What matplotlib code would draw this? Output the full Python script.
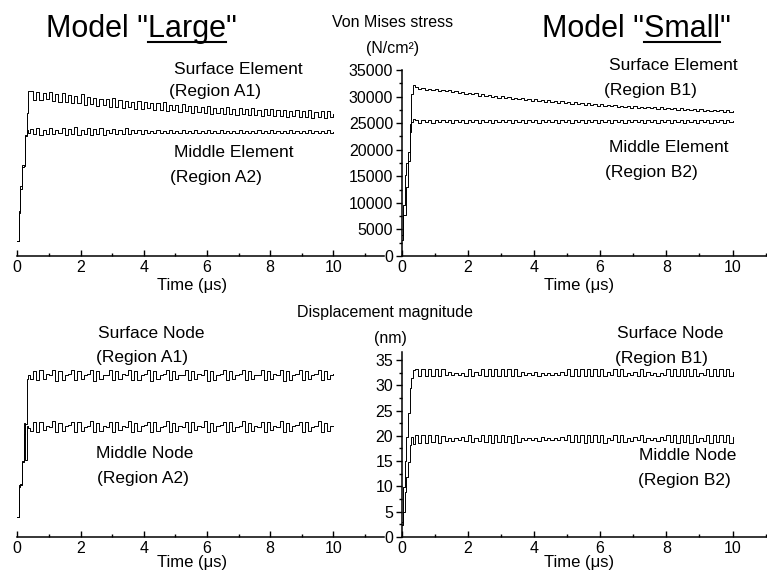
import numpy as np
import matplotlib
matplotlib.use('Agg')
import matplotlib.pyplot as plt
from matplotlib.ticker import MultipleLocator

plt.rcParams['font.family'] = ['Liberation Sans', 'DejaVu Sans']

W, H = 767, 582

# sample times (us): fine steps during the loading ramp, then 0.1 us
t_ramp = [0, 0.05, 0.1, 0.15, 0.2, 0.25, 0.3, 0.35]
t_main = np.round(np.arange(0.4, 10.05, 0.1), 2)
time = np.concatenate([t_ramp, t_main])

# Von Mises stress, thousands of N/cm^2
stress_a1 = [2.8, 8.4, 13.1, 17.2, 17.2, 22.8, 26.9, 31.0,
             31.0, 29.4, 30.9, 29.3, 30.7, 29.5, 30.8, 29.2, 30.5, 29.0,
             30.6, 28.9, 30.3, 28.8, 30.1, 28.7, 30.4, 28.5, 29.9, 28.6,
             29.8, 28.3, 29.6, 28.4, 29.5, 28.1, 29.7, 28.0, 29.3, 27.9,
             29.2, 28.0, 29.0, 27.7, 29.1, 27.6, 28.9, 27.8, 28.8, 27.5,
             28.7, 27.4, 28.9, 27.3, 28.5, 27.4, 28.4, 27.1, 28.6, 27.2,
             28.2, 27.0, 28.3, 27.1, 28.0, 26.9, 28.2, 26.8, 27.9, 26.9,
             27.8, 26.7, 28.0, 26.8, 27.7, 26.6, 27.9, 26.7, 27.6, 26.5,
             27.8, 26.6, 27.5, 26.4, 27.7, 26.5, 27.6, 26.3, 27.4, 26.4,
             27.5, 26.2, 27.3, 26.3, 27.5, 26.1, 27.2, 26.2, 27.4, 26.0,
             27.1, 26.2, 27.3, 26.0, 27.2, 26.1, 26.8]
stress_a2 = [2.8, 8.0, 12.6, 16.8, 17.0, 22.5, 23.8, 23.2,
             23.9, 22.9, 24.0, 22.8, 23.8, 23.0, 24.1, 22.9, 23.7, 23.1,
             24.0, 22.8, 23.9, 23.0, 24.2, 22.7, 23.8, 22.9, 24.1, 22.8,
             23.9, 23.0, 24.0, 22.8, 23.7, 23.1, 23.9, 22.9, 23.8, 23.0,
             24.0, 22.9, 23.7, 23.1, 23.8, 23.0, 23.7, 23.1, 23.6, 23.2,
             23.8, 23.1, 23.6, 23.2, 23.7, 23.1, 23.6, 23.2, 23.8, 23.1,
             23.6, 23.2, 23.7, 23.1, 23.5, 23.2, 23.7, 23.1, 23.6, 23.2,
             23.8, 23.1, 23.6, 23.2, 23.5, 23.1, 23.7, 23.2, 23.6, 23.1,
             23.5, 23.2, 23.7, 23.1, 23.6, 23.2, 23.8, 23.1, 23.5, 23.2,
             23.6, 23.1, 23.7, 23.2, 23.6, 23.1, 23.5, 23.2, 23.7, 23.1,
             23.6, 23.2, 23.5, 23.1, 23.7, 23.2, 23.4]
stress_b1 = [3.9, 9.6, 15.2, 17.5, 19.6, 24.9, 30.5, 32.1,
             31.8, 31.5, 31.7, 31.3, 31.5, 31.2, 31.4, 31.1, 31.3, 31.0,
             31.2, 30.8, 31.0, 30.7, 30.9, 30.5, 30.7, 30.4, 30.6, 30.2,
             30.4, 30.1, 30.3, 29.9, 30.2, 29.8, 30.1, 29.7, 29.9, 29.6,
             29.8, 29.5, 29.7, 29.3, 29.6, 29.2, 29.5, 29.1, 29.4, 29.0,
             29.3, 28.9, 29.2, 28.8, 29.1, 28.7, 29.0, 28.6, 28.9, 28.6,
             28.8, 28.5, 28.7, 28.4, 28.6, 28.3, 28.6, 28.2, 28.5, 28.2,
             28.4, 28.1, 28.3, 28.0, 28.3, 27.9, 28.2, 27.9, 28.1, 27.8,
             28.1, 27.8, 28.0, 27.7, 28.0, 27.6, 27.9, 27.6, 27.8, 27.5,
             27.8, 27.5, 27.7, 27.4, 27.7, 27.3, 27.6, 27.3, 27.5, 27.2,
             27.5, 27.2, 27.4, 27.1, 27.4, 27.1, 27.3]
stress_b2 = [3.0, 7.8, 7.8, 12.9, 17.8, 23.4, 25.3, 25.8,
             25.6, 25.1, 25.5, 25.2, 25.6, 25.1, 25.5, 25.2, 25.6, 25.2,
             25.5, 25.1, 25.6, 25.2, 25.5, 25.1, 25.6, 25.2, 25.5, 25.1,
             25.6, 25.2, 25.5, 25.1, 25.6, 25.2, 25.5, 25.2, 25.6, 25.1,
             25.5, 25.2, 25.6, 25.1, 25.5, 25.2, 25.6, 25.1, 25.5, 25.2,
             25.6, 25.2, 25.5, 25.1, 25.6, 25.2, 25.5, 25.1, 25.6, 25.2,
             25.5, 25.1, 25.6, 25.2, 25.5, 25.1, 25.6, 25.2, 25.5, 25.1,
             25.6, 25.2, 25.5, 25.1, 25.6, 25.2, 25.5, 25.2, 25.6, 25.1,
             25.5, 25.2, 25.6, 25.1, 25.5, 25.2, 25.6, 25.1, 25.5, 25.2,
             25.6, 25.1, 25.5, 25.2, 25.6, 25.1, 25.5, 25.2, 25.6, 25.1,
             25.5, 25.2, 25.6, 25.1, 25.5, 25.2, 25.4]

# displacement magnitude, nm
disp_a1 = [3.9, 10.2, 10.2, 15.1, 20.3, 22.4, 31.2, 32.0,
           31.2, 32.9, 31.0, 33.0, 31.3, 32.2, 32.0, 33.1, 30.9, 32.8,
           31.1, 32.1, 32.3, 33.0, 31.0, 32.9, 31.2, 32.0, 32.2, 33.1,
           30.9, 32.8, 31.2, 32.1, 32.0, 33.0, 31.0, 32.9, 31.3, 32.2,
           32.0, 33.1, 31.0, 32.8, 31.1, 32.1, 32.3, 33.0, 30.9, 32.9,
           31.2, 32.0, 32.2, 33.1, 31.0, 32.8, 31.2, 32.1, 32.0, 33.0,
           31.0, 32.9, 31.3, 32.2, 32.0, 33.1, 30.9, 32.8, 31.1, 32.1,
           32.3, 33.0, 31.0, 32.9, 31.2, 32.0, 32.2, 33.1, 31.0, 32.8,
           31.2, 32.1, 32.0, 33.0, 31.0, 32.9, 31.3, 32.2, 32.0, 33.1,
           30.9, 32.8, 31.1, 32.1, 32.3, 33.0, 31.0, 32.9, 31.2, 32.0,
           32.2, 33.1, 31.0, 32.8, 31.2, 32.1, 32.2]
disp_a2 = [3.9, 9.8, 10.5, 14.8, 22.5, 15.2, 22.0, 21.5,
           21.0, 22.7, 20.8, 22.8, 21.1, 22.0, 21.8, 22.9, 20.7, 22.6,
           20.9, 21.9, 22.1, 22.8, 20.8, 22.7, 21.0, 21.8, 22.0, 22.9,
           20.7, 22.6, 21.0, 21.9, 21.8, 22.8, 20.8, 22.7, 21.1, 22.0,
           21.8, 22.9, 20.8, 22.6, 20.9, 21.9, 22.1, 22.8, 20.7, 22.7,
           21.0, 21.8, 22.0, 22.9, 20.8, 22.6, 21.0, 21.9, 21.8, 22.8,
           20.8, 22.7, 21.1, 22.0, 21.8, 22.9, 20.7, 22.6, 20.9, 21.9,
           22.1, 22.8, 20.8, 22.7, 21.0, 21.8, 22.0, 22.9, 20.8, 22.6,
           21.0, 21.9, 21.8, 22.8, 20.8, 22.7, 21.1, 22.0, 21.8, 22.9,
           20.7, 22.6, 20.9, 21.9, 22.1, 22.8, 20.8, 22.7, 21.0, 21.8,
           22.0, 22.9, 20.8, 22.6, 21.0, 21.9, 22.0]
disp_b1 = [2.3, 9.8, 15.1, 19.7, 24.6, 29.5, 31.5, 33.1,
           33.2, 31.8, 33.2, 31.8, 33.3, 31.8, 33.2, 31.9, 33.2, 32.0,
           32.6, 32.0, 32.5, 32.1, 32.4, 31.9, 33.2, 31.8, 32.6, 32.0,
           33.2, 31.8, 33.3, 31.8, 33.2, 31.8, 33.3, 31.9, 33.2, 31.8,
           33.2, 31.8, 32.6, 32.0, 32.4, 32.1, 32.6, 31.9, 32.4, 32.0,
           32.5, 32.0, 32.4, 32.1, 32.6, 32.0, 33.2, 31.8, 33.2, 31.9,
           33.2, 31.8, 33.3, 31.8, 33.2, 31.9, 33.2, 31.8, 32.6, 32.0,
           33.2, 31.8, 33.2, 31.9, 32.5, 32.0, 32.6, 31.9, 33.2, 31.8,
           32.6, 32.0, 32.5, 31.9, 32.4, 32.0, 33.2, 31.8, 33.2, 31.8,
           33.3, 31.8, 33.2, 31.9, 33.2, 31.8, 32.5, 32.0, 33.2, 31.8,
           33.2, 31.8, 33.3, 31.8, 33.2, 31.9, 32.6]
disp_b2 = [3.0, 4.9, 8.9, 11.8, 14.8, 18.1, 19.8, 18.4,
           20.1, 18.6, 20.2, 18.6, 20.1, 18.7, 20.1, 18.6, 20.0, 18.9,
           19.6, 19.0, 19.5, 19.1, 19.7, 18.9, 20.1, 18.7, 19.6, 19.0,
           20.1, 18.7, 20.2, 18.6, 20.1, 18.7, 20.1, 18.7, 20.0, 18.6,
           20.1, 18.8, 19.6, 19.1, 19.5, 19.2, 19.6, 19.0, 19.7, 19.1,
           19.6, 19.2, 19.5, 19.1, 19.7, 19.1, 20.1, 18.7, 20.2, 18.7,
           20.1, 18.6, 20.2, 18.7, 20.1, 18.7, 20.1, 18.6, 19.6, 19.1,
           20.1, 18.7, 20.2, 18.7, 19.6, 19.0, 19.7, 19.1, 20.1, 18.7,
           19.6, 19.1, 19.5, 19.0, 19.7, 19.1, 20.1, 18.7, 20.2, 18.6,
           20.1, 18.7, 20.1, 18.6, 20.2, 18.7, 19.6, 19.0, 20.1, 18.6,
           20.1, 18.7, 20.2, 18.7, 20.1, 18.6, 19.7]

TICK_FS = 11.5
LBL_FS = 12.5


def rect(x0, y_zero, px_per_unit, xmax, height_px):
    # axes rectangle in figure fractions from pixel measurements
    return [x0 / W, 1 - y_zero / H, xmax * px_per_unit / W, height_px / H]


def setup(ax, with_y, ymax, ymaj, ymin):
    ax.set_xlim(0, 11.6)
    ax.set_ylim(0, ymax)
    for s in ['top', 'right']:
        ax.spines[s].set_visible(False)
    for s in ['left', 'bottom']:
        ax.spines[s].set_linewidth(1.1)
    ax.set_xticks([0, 2, 4, 6, 8, 10])
    ax.xaxis.set_minor_locator(MultipleLocator(1))
    ax.tick_params(axis='x', which='both', direction='in', labelsize=TICK_FS,
                   pad=3, width=1.0)
    ax.tick_params(axis='x', which='major', length=4)
    ax.tick_params(axis='x', which='minor', length=2.5)
    if with_y:
        ax.yaxis.set_major_locator(MultipleLocator(ymaj))
        ax.yaxis.set_minor_locator(MultipleLocator(ymin))
        ax.tick_params(axis='y', which='both', direction='out', labelsize=TICK_FS,
                       pad=2, width=1.0)
        ax.tick_params(axis='y', which='major', length=4)
        ax.tick_params(axis='y', which='minor', length=2.5)
    else:
        ax.spines['left'].set_visible(False)
        ax.set_yticks([])
    ax.patch.set_alpha(0)


fig = plt.figure(figsize=(W / 100, H / 100), dpi=100)

ax_tl = fig.add_axes(rect(17.3, 256, 31.6, 11.6, 186))
ax_tr = fig.add_axes(rect(401.5, 256, 33.1, 11.6, 186))
ax_bl = fig.add_axes(rect(17.3, 537, 31.6, 11.6, 36.5 * 5.06))
ax_br = fig.add_axes(rect(401.5, 537, 33.1, 11.6, 36.5 * 5.06))

line_kw = dict(color='black', lw=0.7, drawstyle='steps-post')
ax_tl.plot(time, np.array(stress_a1) * 1000, **line_kw)
ax_tl.plot(time, np.array(stress_a2) * 1000, **line_kw)
ax_tr.plot(time, np.array(stress_b1) * 1000, **line_kw)
ax_tr.plot(time, np.array(stress_b2) * 1000, **line_kw)
ax_bl.plot(time, disp_a1, **line_kw)
ax_bl.plot(time, disp_a2, **line_kw)
ax_br.plot(time, disp_b1, **line_kw)
ax_br.plot(time, disp_b2, **line_kw)

setup(ax_tl, False, 35000, 5000, 2500)
setup(ax_tr, True, 35000, 5000, 2500)
setup(ax_bl, False, 36.5, 5, 2.5)
setup(ax_br, True, 36.5, 5, 2.5)


def label(s, cx, base, size=LBL_FS):
    return fig.text(cx / W, 1 - base / H, s, ha='center', va='baseline', fontsize=size)


# model titles with the underlined word
renderer = fig.canvas.get_renderer()
for pre, word, cx in [('Model "', 'Large', 141.5), ('Model "', 'Small', 636)]:
    full = label(pre + word + '"', cx, 36.7, 22)
    bb = full.get_window_extent(renderer)
    tmp1 = fig.text(0, 0, pre, fontsize=22)
    tmp2 = fig.text(0, 0, pre + word, fontsize=22)
    w1 = tmp1.get_window_extent(renderer).width
    w2 = tmp2.get_window_extent(renderer).width
    tmp1.remove()
    tmp2.remove()
    yl = 1 - 41.5 / H
    fig.add_artist(plt.Line2D([(bb.x0 + w1) / W, (bb.x0 + w2) / W], [yl, yl],
                              color='black', lw=1.5, transform=fig.transFigure))

label('Von Mises stress', 393, 26.7, 11.5)
label('(N/cm²)', 393, 53.3, 11.5)
label('Surface Element', 238, 74)
label('(Region A1)', 215, 95.7)
label('Middle Element', 234, 156.7)
label('(Region A2)', 216, 181.7)
label('Surface Element', 673, 70)
label('(Region B1)', 650, 95)
label('Middle Element', 669, 151.7)
label('(Region B2)', 651.7, 176.7)
label('Time (μs)', 192, 290, 12)
label('Time (μs)', 579, 290, 12)

label('Displacement magnitude', 385, 316.7, 11.5)
label('(nm)', 390, 343, 11.5)
label('Surface Node', 151.7, 337.7)
label('(Region A1)', 142.5, 361.7)
label('Middle Node', 145, 458.3)
label('(Region A2)', 142.5, 483.3)
label('Surface Node', 670, 338.3)
label('(Region B1)', 661, 362.7)
label('Middle Node', 687.5, 460)
label('(Region B2)', 684, 485)
label('Time (μs)', 192, 567.5, 12)
label('Time (μs)', 579, 567.5, 12)

fig.savefig('out.png', dpi=100)
